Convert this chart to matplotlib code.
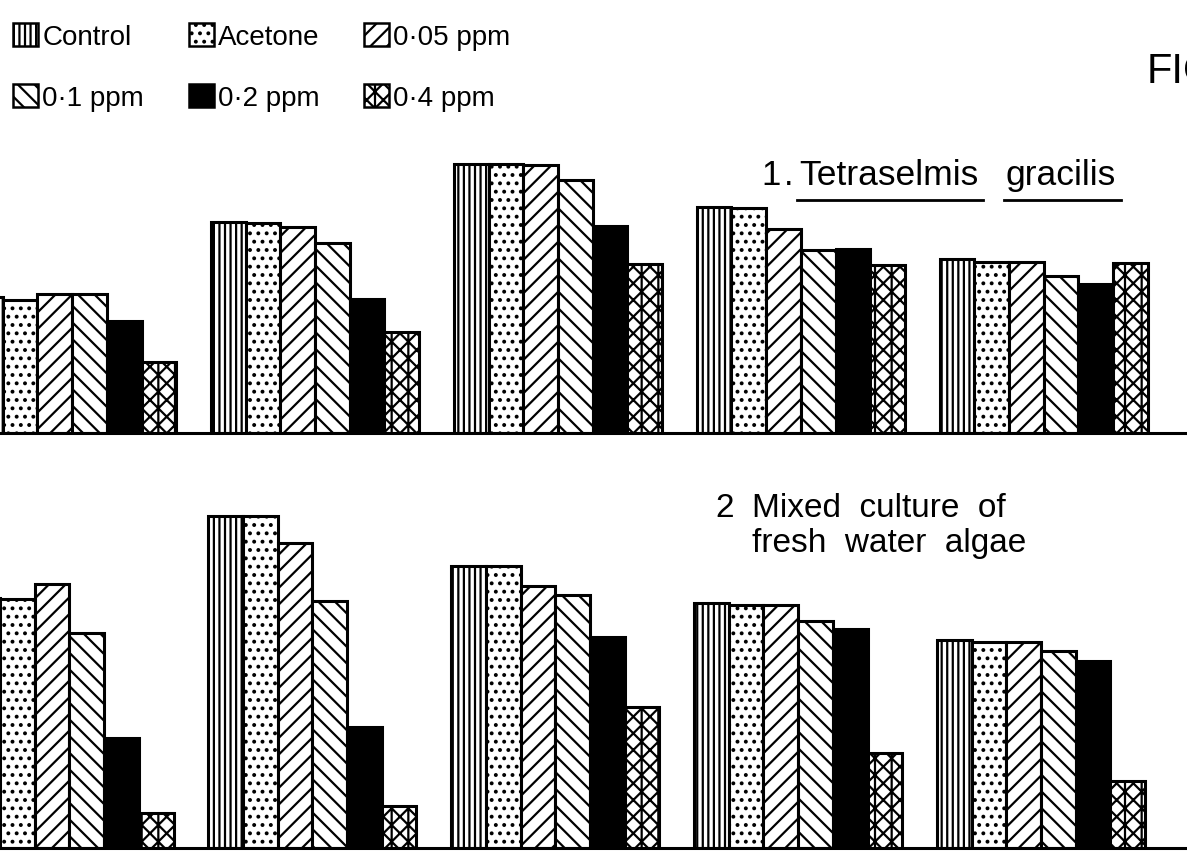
import matplotlib
matplotlib.use('Agg')
import matplotlib.pyplot as plt
from matplotlib.patches import Patch
import numpy as np

plt.rcParams['font.family'] = ['Liberation Sans', 'DejaVu Sans']
plt.rcParams['hatch.linewidth'] = 1.6

# treatments and their fills
treatments = ['Control', 'Acetone', '0·05 ppm', '0·1 ppm', '0·2 ppm', '0·4 ppm']
hatches = ['|||', '..', '//', '\\\\', '', '|xx']
faces = ['white', 'white', 'white', 'white', 'black', 'white']

# 1. Tetraselmis gracilis (5 sampling times)
tg_control = [136, 211, 269, 226, 174]
tg_acetone = [133, 210, 269, 225, 171]
tg_005 = [139, 206, 268, 204, 171]
tg_01 = [139, 190, 253, 183, 157]
tg_02 = [112, 134, 207, 184, 149]
tg_04 = [71, 101, 169, 168, 170]

# 2. mixed culture of fresh water algae
mx_control = [250, 332, 282, 245, 208]
mx_acetone = [249, 332, 282, 243, 206]
mx_005 = [264, 305, 262, 243, 206]
mx_01 = [215, 247, 253, 227, 197]
mx_02 = [110, 121, 211, 219, 187]
mx_04 = [35, 42, 141, 95, 67]

W, H = 1187, 862
fig = plt.figure(figsize=(W / 100, H / 100), dpi=100)
fig.patch.set_facecolor('white')


def fx(px):
    return px / W


def fy(py):
    return 1 - py / H


def draw_panel(ax, series, x_left, y_top):
    n = len(series[0])
    for j, vals in enumerate(series):
        x = np.arange(n) * 7 + j
        ax.bar(x, vals, width=1, align='edge', facecolor=faces[j],
               edgecolor='black', linewidth=2.2, hatch=hatches[j])
    ax.axhline(0, color='black', lw=2.2, clip_on=False)
    ax.set_xlim(x_left, x_left + W / 34.7)
    ax.set_ylim(0, y_top)
    ax.axis('off')


ax1 = fig.add_axes([0, fy(434), 1, 300 / H])
draw_panel(ax1, [tg_control, tg_acetone, tg_005, tg_01, tg_02, tg_04], 0.92, 300)

ax2 = fig.add_axes([0, fy(849), 1, 345 / H])
draw_panel(ax2, [mx_control, mx_acetone, mx_005, mx_01, mx_02, mx_04], 1.0, 345)

# legend, filled column by column
order = [0, 3, 1, 4, 2, 5]
handles = [Patch(facecolor=faces[i], edgecolor='black', linewidth=1.8,
                 hatch=hatches[i], label=treatments[i]) for i in order]
fig.legend(handles=handles, ncol=3, loc='upper left', bbox_to_anchor=(-0.004, 0.993),
           frameon=False, fontsize=20, handlelength=0.9, handleheight=0.9,
           handletextpad=0.15, columnspacing=1.6, labelspacing=1.2, borderpad=0.15)

fig.text(fx(1147), fy(72), 'FIG', fontsize=30, fontweight='light', va='center', ha='left')

# panel titles
renderer = fig.canvas.get_renderer()
fig.text(fx(761), fy(185), '1', fontsize=25, va='baseline', ha='left')
fig.text(fx(784), fy(185), '.', fontsize=25, va='baseline', ha='left')
for word, x0 in [('Tetraselmis', 799), ('gracilis', 1006)]:
    t = fig.text(fx(x0), fy(185), word, fontsize=25.5, va='baseline', ha='left')
    bb = t.get_window_extent(renderer)
    fig.add_artist(plt.Line2D([bb.x0 / W - 0.002, bb.x1 / W + 0.004], [fy(201), fy(201)],
                              color='black', lw=2, transform=fig.transFigure))

fig.text(fx(715), fy(517), '2', fontsize=24, va='baseline', ha='left')
fig.text(fx(752), fy(517), 'Mixed  culture  of', fontsize=24, va='baseline', ha='left')
fig.text(fx(752), fy(552), 'fresh  water  algae', fontsize=24, va='baseline', ha='left')

fig.savefig('out.png', dpi=100, facecolor='white')
